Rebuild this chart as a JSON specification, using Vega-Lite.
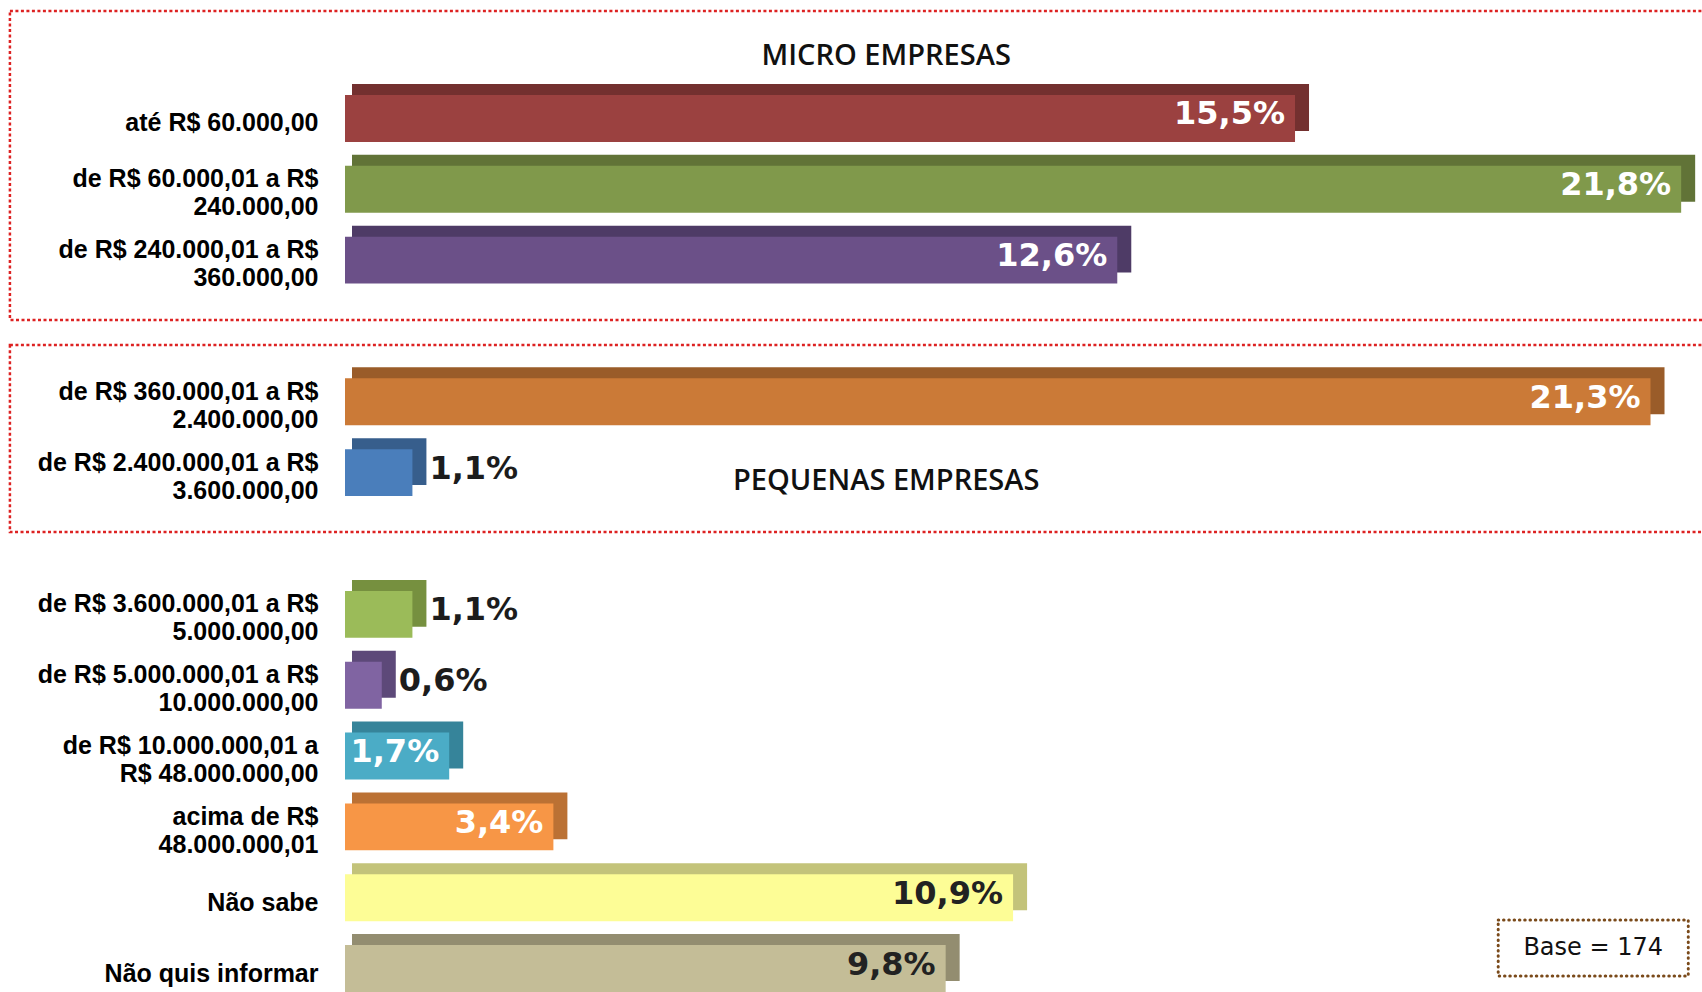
{
  "$schema": "https://vega.github.io/schema/vega-lite/v6.json",
  "width": 1357,
  "height": 897,
  "autosize": {"type": "none"},
  "padding": {"left": 345, "top": 95, "right": 0, "bottom": 0},
  "background": "white",
  "config": {"view": {"stroke": null}},
  "datasets": {
    "bars": [
      {"cat": "até R$ 60.000,00", "pct": 15.5, "label": "15,5%"},
      {"cat": "de R$ 60.000,01 a R$|240.000,00", "pct": 21.8, "label": "21,8%"},
      {"cat": "de R$ 240.000,01 a R$|360.000,00", "pct": 12.6, "label": "12,6%"},
      {"cat": "de R$ 360.000,01 a R$|2.400.000,00", "pct": 21.3, "label": "21,3%"},
      {"cat": "de R$ 2.400.000,01 a R$|3.600.000,00", "pct": 1.1, "label": "1,1%"},
      {"cat": "de R$ 3.600.000,01 a R$|5.000.000,00", "pct": 1.1, "label": "1,1%"},
      {"cat": "de R$ 5.000.000,01 a R$|10.000.000,00", "pct": 0.6, "label": "0,6%"},
      {"cat": "de R$ 10.000.000,01 a|R$ 48.000.000,00", "pct": 1.7, "label": "1,7%"},
      {"cat": "acima de R$|48.000.000,01", "pct": 3.4, "label": "3,4%"},
      {"cat": "Não sabe", "pct": 10.9, "label": "10,9%"},
      {"cat": "Não quis informar", "pct": 9.8, "label": "9,8%"}
    ]
  },
  "resolve": {"scale": {"y": "independent", "x": "independent"}},
  "layer": [
    {
      "data": {"name": "bars"},
      "encoding": {
        "x": {"field": "pct", "type": "quantitative", "scale": {"domain": [0, 22.14], "nice": false, "zero": true}, "axis": null},
        "y": {
          "field": "cat", "type": "nominal", "sort": null,
          "scale": {
            "domain": ["até R$ 60.000,00", "de R$ 60.000,01 a R$|240.000,00", "de R$ 240.000,01 a R$|360.000,00", "gap1", "de R$ 360.000,01 a R$|2.400.000,00", "de R$ 2.400.000,01 a R$|3.600.000,00", "gap2", "de R$ 3.600.000,01 a R$|5.000.000,00", "de R$ 5.000.000,01 a R$|10.000.000,00", "de R$ 10.000.000,01 a|R$ 48.000.000,00", "acima de R$|48.000.000,01", "Não sabe", "Não quis informar"],
            "paddingInner": 0.338, "paddingOuter": 0
          },
          "axis": {
            "title": null, "domain": false, "ticks": false, "grid": false,
            "labelExpr": "indexof(datum.value, 'gap') == 0 ? '' : split(datum.value, '|')",
            "labelFont": "Liberation Sans", "labelFontWeight": "bold", "labelFontSize": 25,
            "labelColor": "#000000", "labelPadding": 27, "labelLimit": 500,
            "labelLineHeight": 28,
            "labelOffset": {"condition": {"test": "indexof(datum.value, '|') >= 0", "value": -10}, "value": 5}
          }
        }
      },
      "layer": [
        {
          "mark": {"type": "bar", "xOffset": 14, "x2Offset": 7, "yOffset": -11, "y2Offset": -11},
          "encoding": {
            "x2": {"datum": 0},
            "fill": {"field": "cat", "type": "nominal", "legend": null,
              "scale": {"domain": ["até R$ 60.000,00", "de R$ 60.000,01 a R$|240.000,00", "de R$ 240.000,01 a R$|360.000,00", "de R$ 360.000,01 a R$|2.400.000,00", "de R$ 2.400.000,01 a R$|3.600.000,00", "de R$ 3.600.000,01 a R$|5.000.000,00", "de R$ 5.000.000,01 a R$|10.000.000,00", "de R$ 10.000.000,01 a|R$ 48.000.000,00", "acima de R$|48.000.000,01", "Não sabe", "Não quis informar"],
                "range": ["#73302F", "#617337", "#4E3B66", "#9A5C29", "#375E8C", "#76903F", "#5D4979", "#36849A", "#BB7134", "#C3C37A", "#938D70"]}}
          }
        },
        {
          "mark": {"type": "bar"},
          "encoding": {
            "color": {"field": "cat", "type": "nominal", "legend": null,
              "scale": {"domain": ["até R$ 60.000,00", "de R$ 60.000,01 a R$|240.000,00", "de R$ 240.000,01 a R$|360.000,00", "de R$ 360.000,01 a R$|2.400.000,00", "de R$ 2.400.000,01 a R$|3.600.000,00", "de R$ 3.600.000,01 a R$|5.000.000,00", "de R$ 5.000.000,01 a R$|10.000.000,00", "de R$ 10.000.000,01 a|R$ 48.000.000,00", "acima de R$|48.000.000,01", "Não sabe", "Não quis informar"],
                "range": ["#9B4140", "#80994B", "#6B5088", "#CB7A37", "#4A7EBB", "#9BBB59", "#8064A2", "#4BACC6", "#F79646", "#FDFD96", "#C4BD97"]}}
          }
        },
        {
          "transform": [{"filter": "datum.pct >= 1.5"}],
          "mark": {"type": "text", "align": "right", "baseline": "middle", "dx": -10, "dy": -4, "font": "DejaVu Sans", "fontWeight": "bold", "fontSize": 32},
          "encoding": {
            "text": {"field": "label"},
            "color": {"condition": {"test": "datum.cat == 'Não sabe' || datum.cat == 'Não quis informar'", "value": "#222222"}, "value": "#ffffff"}
          }
        },
        {
          "transform": [{"filter": "datum.pct < 1.5"}],
          "mark": {"type": "text", "align": "left", "baseline": "middle", "dx": 17, "dy": -4, "font": "DejaVu Sans", "fontWeight": "bold", "fontSize": 32, "color": "#1c1c1c"},
          "encoding": {"text": {"field": "label"}}
        }
      ]
    },
    {
      "layer": [
        {
          "data": {"values": [{}]},
          "mark": {"type": "rect", "filled": false, "stroke": "#DD2222", "strokeWidth": 2.5, "strokeDash": [3, 2.5]},
          "encoding": {
            "x": {"datum": -5.467, "type": "quantitative", "scale": {"domain": [0, 22.14], "nice": false, "zero": true}, "axis": null},
            "x2": {"datum": 23},
            "y": {"datum": -1.186, "type": "quantitative", "scale": {"domain": [0, 12.662], "reverse": true, "nice": false, "zero": false}, "axis": null},
            "y2": {"datum": 3.176}
          }
        },
        {
          "data": {"values": [{}]},
          "mark": {"type": "rect", "filled": false, "stroke": "#DD2222", "strokeWidth": 2.5, "strokeDash": [3, 2.5]},
          "encoding": {
            "x": {"datum": -5.467, "type": "quantitative"},
            "x2": {"datum": 23},
            "y": {"datum": 3.529, "type": "quantitative"},
            "y2": {"datum": 6.169}
          }
        },
        {
          "data": {"values": [{}]},
          "mark": {"type": "rect", "filled": false, "stroke": "#7A4A1A", "strokeWidth": 3, "strokeDash": [0.5, 4.8], "strokeCap": "round"},
          "encoding": {
            "x": {"datum": 18.815, "type": "quantitative"},
            "x2": {"datum": 21.916},
            "y": {"datum": 11.646, "type": "quantitative"},
            "y2": {"datum": 12.436}
          }
        },
        {
          "data": {"values": [{"t": "MICRO EMPRESAS"}]},
          "mark": {"type": "text", "align": "center", "baseline": "middle", "font": "Open Sans", "fontWeight": 600, "fontSize": 29, "color": "#111111"},
          "encoding": {
            "x": {"datum": 8.83, "type": "quantitative"},
            "y": {"datum": -0.551, "type": "quantitative"},
            "text": {"field": "t"}
          }
        },
        {
          "data": {"values": [{"t": "PEQUENAS EMPRESAS"}]},
          "mark": {"type": "text", "align": "center", "baseline": "middle", "font": "Open Sans", "fontWeight": 600, "fontSize": 29, "color": "#111111"},
          "encoding": {
            "x": {"datum": 8.83, "type": "quantitative"},
            "y": {"datum": 5.449, "type": "quantitative"},
            "text": {"field": "t"}
          }
        },
        {
          "data": {"values": [{"t": "Base = 174"}]},
          "mark": {"type": "text", "align": "center", "baseline": "middle", "font": "DejaVu Sans", "fontSize": 24, "color": "#111111"},
          "encoding": {
            "x": {"datum": 20.365, "type": "quantitative"},
            "y": {"datum": 12.041, "type": "quantitative"},
            "text": {"field": "t"}
          }
        }
      ]
    }
  ]
}
